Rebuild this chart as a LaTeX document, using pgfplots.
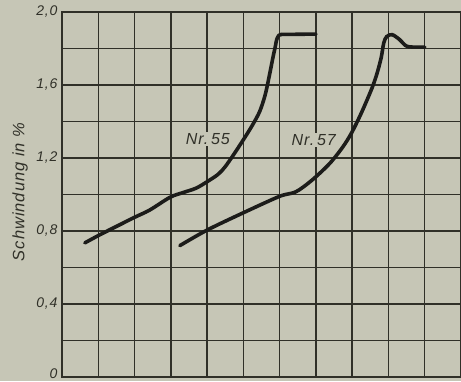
\documentclass[border=0pt]{standalone}
\usepackage{pgfplots}
\pgfplotsset{compat=1.18}
\usepackage{fontspec}
\setmainfont{Liberation Sans}[LetterSpace=6]
\definecolor{bg}{RGB}{198,198,182}
\definecolor{ink}{RGB}{48,48,40}
\definecolor{curve}{RGB}{28,28,26}
\begin{document}
\begin{tikzpicture}[x=1pt,y=1pt]
\useasboundingbox (0,0) rectangle (461,381);
\fill[bg] (0,0) rectangle (461,381);
\begin{axis}[
  at={(62pt,4pt)}, anchor=south west,
  scale only axis, width=399pt, height=365pt,
  xmin=0, xmax=11, ymin=0, ymax=2,
  xtick={0,1,2,3,4,5,6,7,8,9,10,11}, xticklabels={},
  ytick={0,0.4,0.8,1.2,1.6,2.0},
  yticklabels={{\raisebox{7pt}{0}},{0,4},{0,8},{1,2},{1,6},{2,0}},
  minor ytick={0.2,0.6,1.0,1.4,1.8},
  grid=both,
  major grid style={ink, line width=1.4pt},
  minor grid style={ink, line width=1.4pt},
  axis line style={ink, line width=1.8pt},
  major tick length=0pt, minor tick length=0pt,
  yticklabel style={font=\fontsize{14}{14}\selectfont\itshape, text=ink, xshift=-1pt},
  ylabel={Schwindung in \%},
  ylabel style={font=\fontsize{16.5}{16.5}\selectfont\itshape, text=ink, at={(axis description cs:-0.105,0.507)}, anchor=center},
  clip=true,
]
% Nr. 55
\addplot[curve, line width=3.6pt, smooth, tension=0.5, line cap=round] coordinates {
 (0.63,0.735) (1.05,0.78) (1.6,0.835) (2.0,0.875) (2.42,0.915) (2.98,0.985)
 (3.33,1.01) (3.7,1.035) (4.0,1.07) (4.3,1.11) (4.49,1.15) (4.72,1.215)
 (5.0,1.30) (5.25,1.38) (5.45,1.455) (5.6,1.545) (5.72,1.655)
 (5.82,1.755) (5.88,1.81) (5.92,1.85) (5.98,1.872) (6.05,1.877)
};
\addplot[curve, line width=3.6pt, line cap=round] coordinates {
 (6.05,1.877) (7.0,1.879)
};
% Nr. 57
\addplot[curve, line width=3.6pt, smooth, tension=0.5, line cap=round] coordinates {
 (3.25,0.72) (4.0,0.805) (5.0,0.90) (6.0,0.99) (6.45,1.015) (6.9,1.08)
 (7.38,1.17) (7.74,1.26) (7.99,1.34) (8.26,1.45) (8.54,1.58) (8.68,1.66)
 (8.80,1.75) (8.87,1.83) (8.95,1.865) (9.1,1.876) (9.3,1.85) (9.48,1.815)
 (9.65,1.808) (10.0,1.808)
};
\node[fill=bg, inner sep=1.5pt, font=\fontsize{16}{16}\selectfont\itshape, text=ink] at (axis cs:4.02,1.304) {Nr.\,55};
\node[fill=bg, inner sep=1.5pt, font=\fontsize{16}{16}\selectfont\itshape, text=ink] at (axis cs:6.94,1.30) {Nr.\,57};
\end{axis}
\end{tikzpicture}
\end{document}
